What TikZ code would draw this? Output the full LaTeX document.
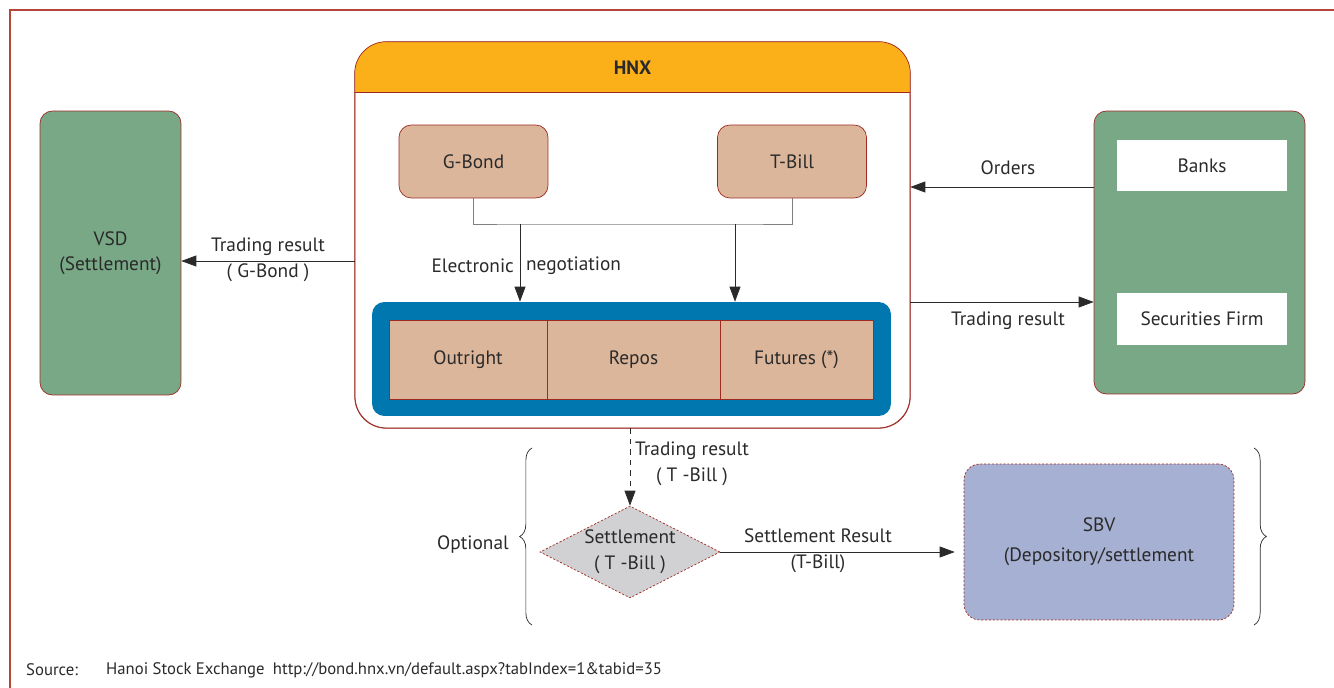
\documentclass[tikz,border=0pt]{standalone}
\usepackage{fontspec}
\setmainfont{PT Sans}
\usetikzlibrary{arrows.meta,shapes.geometric,decorations.pathreplacing}
\definecolor{frameRed}{HTML}{B5473A}
\definecolor{edgeRed}{HTML}{9E2A22}
\definecolor{hnxOrange}{HTML}{FBB01A}
\definecolor{tan}{HTML}{DBB69B}
\definecolor{deepBlue}{HTML}{0077AE}
\definecolor{sage}{HTML}{78A886}
\definecolor{lilac}{HTML}{A6B0D2}
\definecolor{lightGray}{HTML}{D1D1D3}
\definecolor{ink}{HTML}{2A2A2A}

\begin{document}
\begin{tikzpicture}[x=0.02cm, y=-0.02cm,
        every node/.style={text=ink, font=\fontsize{11}{13}\selectfont},
        block/.style={draw=edgeRed, rounded corners=7pt, align=center, inner sep=0pt},
        cell/.style={draw=edgeRed, fill=tan, minimum height=1.58cm, inner sep=0pt},
        whitebox/.style={fill=white, minimum width=3.4cm, inner sep=0pt},
        dotbox/.style={draw=edgeRed, dash pattern=on 1.2pt off 1pt, align=center, inner sep=0pt},
        arrow/.style={-{Triangle[length=3mm, width=2.2mm]}, ink},
        lbl/.style={align=center, inner sep=1pt},
        curly/.style={decorate, decoration={brace, amplitude=7pt}, ink, thin}
    ]
    \useasboundingbox (0,0) rectangle (1334,688);
    \draw[frameRed, line width=1pt] (10,700) -- (10,10) -- (1345,10);

    % HNX frame with orange header
    \node[block, fill=white, rounded corners=18pt, minimum width=11.1cm, minimum height=7.72cm] (hnx) at (632.5,235) {};
    \begin{scope}
        \clip[rounded corners=18pt] (hnx.south west) rectangle (hnx.north east);
        \fill[hnxOrange] (hnx.north west) rectangle ([yshift=-1.02cm]hnx.north east);
    \end{scope}
    \draw[edgeRed, rounded corners=18pt] (hnx.south west) rectangle (hnx.north east);
    \draw[edgeRed] ([yshift=-1.02cm]hnx.north west) -- ([yshift=-1.02cm]hnx.north east);
    \node[font=\fontsize{11}{13}\selectfont\bfseries] (title) at (632.5,68) {HNX};

    \node[block, fill=tan, minimum width=2.98cm, minimum height=1.46cm] (gbond) at (473.5,161.5) {G-Bond};
    \node[block, fill=tan, minimum width=2.98cm, minimum height=1.46cm] (tbill) at (792,161.5) {T-Bill};
    \node[fill=deepBlue, rounded corners=7pt, minimum width=10.38cm, minimum height=2.28cm] (pool) at (631.5,359) {};
    \node[cell, minimum width=3.16cm] (outright) at (468,359.5) {Outright};
    \node[cell, minimum width=3.46cm] (repos) at (633.5,359.5) {Repos};
    \node[cell, minimum width=3.06cm] (futures) at (796.5,359.5) {Futures (*)};

    \coordinate (jl) at (520,224);
    \coordinate (jr) at (735,224);
    \draw[gray] (gbond.south) |- (jl) -- (jr) -| (tbill.south);
    \draw[arrow] (jl) -- (jl |- pool.north);
    \draw[arrow] (jr) -- (jr |- pool.north);
    \node[anchor=east, inner sep=1pt] (elec) at (516,266) {Electronic};
    \node[anchor=west, inner sep=1pt] (nego) at (524,266) {negotiation};

    % side parties
    \node[block, fill=sage, minimum width=2.82cm, minimum height=5.68cm] (vsd) at (110.5,253) {VSD\\[1pt](Settlement)};
    \node[block, fill=sage, minimum width=4.22cm, minimum height=5.66cm] (members) at (1199.5,252.5) {};
    \node[whitebox, minimum height=1.02cm] (banks) at (1202,165.5) {Banks};
    \node[whitebox, minimum height=1.04cm] (firm) at (1202,319) {Securities Firm};

    \draw[arrow] (hnx.west |- 0,261) -- (vsd.east |- 0,261);
    \node[lbl] (gres) at (268,260) {Trading result\\[2pt]( G-Bond )};
    \draw[arrow] (members.west |- 0,187) -- (hnx.east |- 0,187);
    \node[lbl] (orders) at (1008,168) {Orders};
    \draw[arrow] (hnx.east |- 0,302) -- (members.west |- 0,302);
    \node[lbl] (tres) at (1008,321) {Trading result};

    % optional T-Bill settlement
    \node[dotbox, diamond, fill=lightGray, minimum width=3.6cm, minimum height=1.84cm, aspect=2] (settle) at (630,552) {Settlement\\[2pt]( T -Bill )};
    \node[dotbox, fill=lilac, rounded corners=9pt, minimum width=5.4cm, minimum height=3.12cm] (sbv) at (1099,542) {SBV\\[4pt](Depository/settlement};
    \draw[arrow, dashed] (settle.north |- hnx.south) -- (settle.north);
    \node[lbl] (bres) at (692,464) {Trading result\\[2pt]( T -Bill )};
    \draw[arrow, shorten >=0.18cm] (settle.east) -- (sbv.west |- settle.east);
    \node[lbl] (sres) at (818,551) {Settlement Result\\[2pt](T-Bill)};

    \draw[curly] (532,625) -- (532,448);
    \draw[curly] (1254,448) -- (1254,625);
    \node (optional) at (473,545) {Optional};

    \node[anchor=west, font=\fontsize{9.5}{11}\selectfont] (src) at (20,670) {Source:};
    \node[anchor=west, font=\fontsize{9.5}{11}\selectfont] (srcref) at (100,670) {Hanoi Stock Exchange\enspace http://bond.hnx.vn/default.aspx?tabIndex=1\&tabid=35};
\end{tikzpicture}
\end{document}
